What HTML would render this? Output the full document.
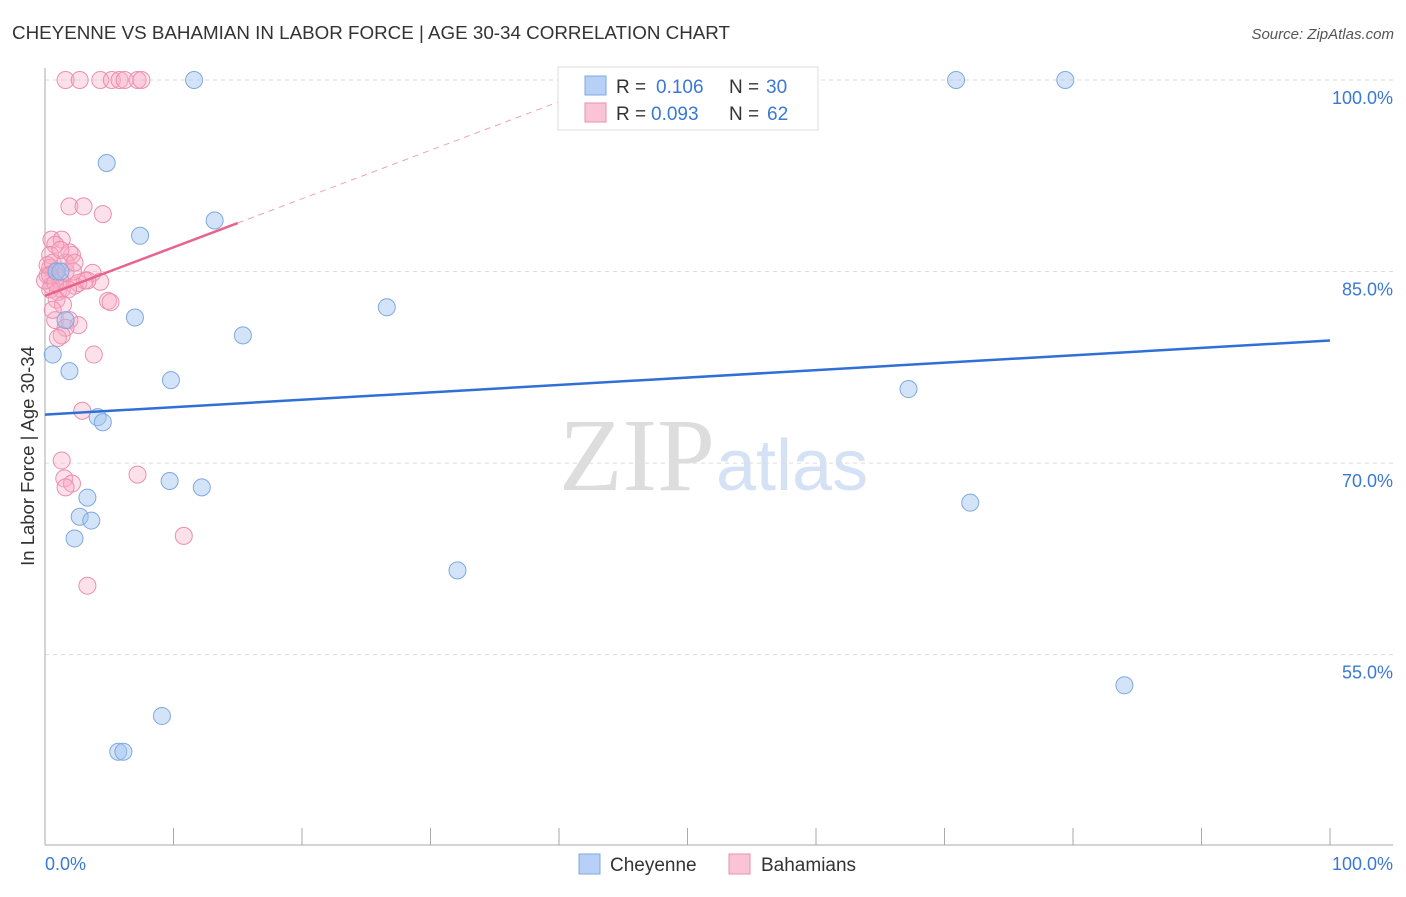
<!DOCTYPE html>
<html><head><meta charset="utf-8"><style>
body{margin:0;background:#fff;font-family:"Liberation Sans",sans-serif;}
</style></head><body>
<svg id="c" width="1406" height="892" xmlns="http://www.w3.org/2000/svg">
<text x="12" y="39" font-size="18.8" fill="#333" textLength="718">CHEYENNE VS BAHAMIAN IN LABOR FORCE | AGE 30-34 CORRELATION CHART</text>
<text x="1394" y="39" font-size="15" fill="#555" font-style="italic" text-anchor="end">Source: ZipAtlas.com</text>
<text x="715" y="490" font-size="104" fill="#ddd" text-anchor="end" font-family="Liberation Serif,serif">ZIP</text>
<text x="716" y="490" font-size="72" fill="#d5e2f5">atlas</text>
<g id="grid"></g>
<g id="pts"></g>
<g id="lines"></g>
<text transform="translate(34,456) rotate(-90)" font-size="18.5" fill="#333" text-anchor="middle">In Labor Force | Age 30-34</text>
<text x="45" y="870" font-size="18" fill="#3a78d6">0.0%</text>
<text x="1393" y="870" font-size="18" fill="#3a78d6" text-anchor="end">100.0%</text>
<g>
<rect x="558" y="67" width="260" height="63" fill="#fff" stroke="#ddd"/>
<rect x="585" y="76" width="21" height="19" fill="#b7d0f5" stroke="#7fa8e0"/>
<rect x="585" y="103" width="21" height="19" fill="#f9c5d5" stroke="#eb8fae"/>
<text y="93" font-size="19" fill="#333"><tspan x="616">R =</tspan><tspan x="656" fill="#3a78d6">0.106</tspan><tspan x="729">N =</tspan><tspan x="766" fill="#3a78d6">30</tspan></text>
<text y="120" font-size="19" fill="#333"><tspan x="616">R =</tspan><tspan x="651" fill="#3a78d6">0.093</tspan><tspan x="729">N =</tspan><tspan x="767" fill="#3a78d6">62</tspan></text>
</g>
<g>
<rect x="579" y="854" width="21" height="20" fill="#b7d0f5" stroke="#7fa8e0"/>
<text x="610" y="871" font-size="19" fill="#333">Cheyenne</text>
<rect x="729" y="854" width="21" height="20" fill="#f9c5d5" stroke="#eb8fae"/>
<text x="761" y="871" font-size="19" fill="#333">Bahamians</text>
</g>
</svg>
<script>
const yTicks=[100,85,70,55];
const yTickLabels=["100.0%","85.0%","70.0%","55.0%"];
const xTicks=[0,10,20,30,40,50,60,70,80,90,100];
const cheyX=[4.8,7.4,13.2,7.0,15.4,26.6,0.6,1.9,9.8,4.1,4.5,9.7,12.2,3.3,2.7,3.6,2.3,32.1,9.1,5.7,6.1,11.6,70.9,79.4,67.2,72.0,84.0,0.9,1.2,1.6];
const cheyY=[93.5,87.8,89.0,81.4,80.0,82.2,78.5,77.2,76.5,73.6,73.2,68.6,68.1,67.3,65.8,65.5,64.1,61.6,50.2,47.4,47.4,100,100,100,75.8,66.9,52.6,85.0,85.0,81.2];
const bahX=[1.6,2.7,4.3,5.2,5.8,6.2,7.2,7.5,1.9,3.0,4.5,0.5,1.3,0.8,2.1,0.4,0.4,0.8,0.2,1.2,1.6,3.7,2.3,3.1,4.3,0.5,1.0,1.3,0.4,2.6,4.9,5.1,0.8,1.9,2.6,1.6,1.3,1.0,3.8,2.9,1.3,1.5,2.1,1.6,7.2,10.8,3.3,0.2,0.6,1.9,0,0.9,1.6,3.3,2.2,1.2,0.4,0.8,1.8,1.4,0.6,2.3];
const bahY=[100,100,100,100,100,100,100,100,90.1,90.1,89.5,87.5,87.5,87.1,86.3,86.3,85.3,85.0,84.7,84.3,85.0,84.9,83.9,84.3,84.2,83.9,83.4,83.6,83.6,84.1,82.7,82.6,81.2,81.2,80.8,80.6,80.0,79.8,78.5,74.1,70.2,68.8,68.4,68.1,69.1,64.3,60.4,85.5,85.7,86.5,84.3,82.8,85.7,84.3,85.0,86.7,84.7,84.1,83.6,82.4,82.0,85.7];
const cheyTrend=[73.8,79.6];
const bahTrend=[83.1,0.38];
const NS="http://www.w3.org/2000/svg";
const X=v=>45+v*12.85, Y=v=>80+(100-v)*12.77;
function mk(t,a,p){const e=document.createElementNS(NS,t);for(const k in a)e.setAttribute(k,a[k]);p.appendChild(e);return e;}
const g=document.getElementById('grid');
yTicks.forEach((t,i)=>{
 const l=mk('line',{x1:45,x2:1393,y1:Y(t),y2:Y(t),stroke:'#ddd','stroke-dasharray':'4,4'},g);
 
 
 const tx=mk('text',{x:1393,y:Y(t)+24,'font-size':18,fill:'#3a78d6','text-anchor':'end'},g);
 tx.textContent=yTickLabels[i];
 
 
});
const ax=mk('line',{x1:45,x2:45,y1:68,y2:845,stroke:'#aaa'},g);


const bx=mk('line',{x1:45,x2:1393,y1:845,y2:845,stroke:'#aaa'},g);


xTicks.forEach(t=>{
 const l=mk('line',{x1:X(t),x2:X(t),y1:828,y2:845,stroke:'#aaa'},g);
 
 
});
const p=document.getElementById('pts');
bahX.forEach((x,i)=>{
 const c=mk('circle',{cx:X(x),cy:Y(bahY[i]),r:8.5,fill:'rgba(248,170,195,0.35)',stroke:'#eb8fae','stroke-width':1},p);
 
 
});
cheyX.forEach((x,i)=>{
 const c=mk('circle',{cx:X(x),cy:Y(cheyY[i]),r:8.5,fill:'rgba(160,195,240,0.45)',stroke:'#7fa8e0','stroke-width':1},p);
 
 
});
const L=document.getElementById('lines');
const cl=mk('line',{x1:X(0),y1:Y(cheyTrend[0]),x2:X(100),y2:Y(cheyTrend[1]),stroke:'#2f6fd6','stroke-width':2.5},L);


const bl=mk('line',{x1:X(0),y1:Y(bahTrend[0]),x2:X(15),y2:Y(bahTrend[0]+15*bahTrend[1]),stroke:'#e8648f','stroke-width':2.5},L);


const xe=(100-bahTrend[0])/bahTrend[1];
const bd=mk('line',{x1:X(15),y1:Y(bahTrend[0]+15*bahTrend[1]),x2:X(xe),y2:Y(100),stroke:'#eba3bb','stroke-width':1,'stroke-dasharray':'6,5'},L);


</script>
</body></html>
